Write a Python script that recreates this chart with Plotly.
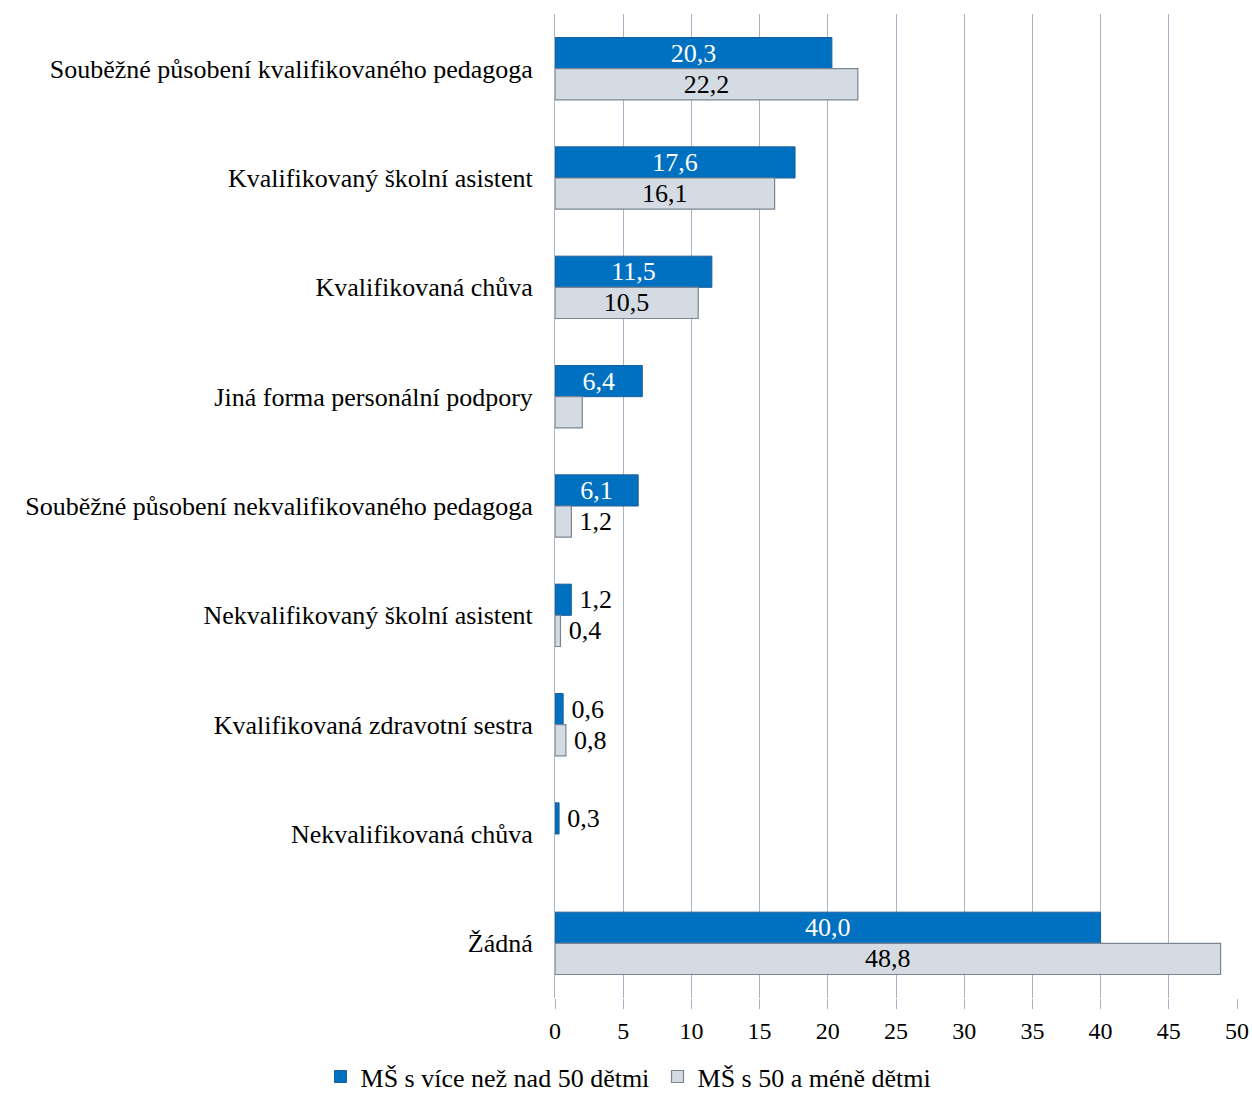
import plotly.graph_objects as go

categories = [
    "Souběžné působení kvalifikovaného pedagoga",
    "Kvalifikovaný školní asistent",
    "Kvalifikovaná chůva",
    "Jiná forma personální podpory",
    "Souběžné působení nekvalifikovaného pedagoga",
    "Nekvalifikovaný školní asistent",
    "Kvalifikovaná zdravotní sestra",
    "Nekvalifikovaná chůva",
    "Žádná",
]
series_big = [20.3, 17.6, 11.5, 6.4, 6.1, 1.2, 0.6, 0.3, 40.0]
series_small = [22.2, 16.1, 10.5, 2.0, 1.2, 0.4, 0.8, 0.0, 48.8]
labels_big = ["20,3", "17,6", "11,5", "6,4", "6,1", "1,2", "0,6", "0,3", "40,0"]
labels_small = ["22,2", "16,1", "10,5", "", "1,2", "0,4", "0,8", "", "48,8"]
name_big = "MŠ s více než nad 50 dětmi"
name_small = "MŠ s 50 a méně dětmi"
tick_vals = [0, 5, 10, 15, 20, 25, 30, 35, 40, 45, 50]

FONT = "Liberation Serif"
BLUE = "#0070C0"
GREY = "#D5DBE2"
LBL = 26


def positions(vals):
    return ["inside" if v >= 5 else "outside" for v in vals]


def pad(labels, vals):
    # small outside labels sit a little away from the bar end
    return [("\u2009" + t) if (v < 5 and t) else t for t, v in zip(labels, vals)]


fig = go.Figure()
fig.add_trace(go.Bar(
    y=categories, x=series_big, orientation="h", name=name_big,
    marker=dict(color=BLUE, line=dict(color="#1F5F9A", width=1)),
    text=pad(labels_big, series_big), textposition=positions(series_big),
    insidetextanchor="middle", constraintext="none",
    insidetextfont=dict(color="white", size=LBL, family=FONT),
    outsidetextfont=dict(color="black", size=LBL, family=FONT),
    cliponaxis=False,
))
fig.add_trace(go.Bar(
    y=categories, x=series_small, orientation="h", name=name_small,
    marker=dict(color=GREY,
                line=dict(color="#7A8591",
                          width=[1.2 if v > 0 else 0 for v in series_small])),
    text=pad(labels_small, series_small), textposition=positions(series_small),
    insidetextanchor="middle", constraintext="none",
    insidetextfont=dict(color="black", size=LBL, family=FONT),
    outsidetextfont=dict(color="black", size=LBL, family=FONT),
    cliponaxis=False,
))

fig.update_layout(
    width=1252, height=1097,
    margin=dict(l=555, r=15, t=14, b=99, autoexpand=False),
    barmode="group", bargap=0.43, bargroupgap=0,
    plot_bgcolor="white", paper_bgcolor="white",
    font=dict(family=FONT, size=26, color="black"),
    uniformtext=dict(mode="show", minsize=LBL),
    legend=dict(orientation="h", xref="container", yref="container",
                x=0.256, xanchor="left", y=0.04, yanchor="top",
                font=dict(size=26, family=FONT), traceorder="normal",
                itemwidth=30, entrywidth=292, bgcolor="rgba(0,0,0,0)"),
    showlegend=True,
)
fig.update_xaxes(
    range=[0, 50], tickvals=tick_vals, ticktext=[str(t) for t in tick_vals],
    showgrid=True, gridcolor="#A9B3C6", gridwidth=1,
    zeroline=False, showline=False, automargin=False,
    ticks="outside", ticklen=10, tickcolor="#A9B3C6",
    tickfont=dict(size=24, family=FONT), ticklabelstandoff=1,
)
fig.update_yaxes(
    autorange="reversed", showgrid=False, zeroline=False, automargin=False,
    showline=True, linecolor="#A9B3C6", linewidth=1,
    ticks="", tickfont=dict(size=26, family=FONT), ticklabelstandoff=16,
)
fig.write_html("out.html")
